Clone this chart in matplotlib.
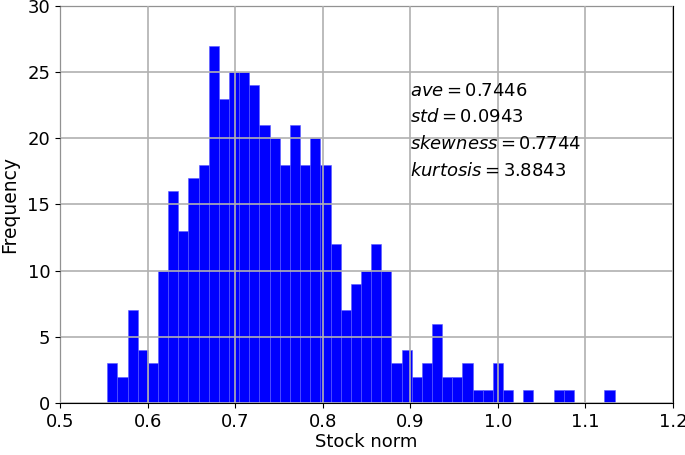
import numpy as np
import matplotlib
matplotlib.use("Agg")
import matplotlib.pyplot as plt

# Histogram counts (50 bins)
counts = [3, 2, 7, 4, 3, 10, 16, 13, 17, 18,
          27, 23, 25, 25, 24, 21, 20, 18, 21, 18,
          20, 18, 12, 7, 9, 10, 12, 10, 3, 4,
          2, 3, 6, 2, 2, 3, 1, 1, 3, 1,
          0, 1, 0, 0, 1, 1, 0, 0, 0, 1]
data_min = 0.554
data_max = 1.1333
stats_labels = ["ave", "std", "skewness", "kurtosis"]
stats_values = [0.7446, 0.0943, 0.7744, 3.8843]
x_ticks = [0.5, 0.6, 0.7, 0.8, 0.9, 1.0, 1.1, 1.2]
y_ticks = [0, 5, 10, 15, 20, 25, 30]

edges = np.linspace(data_min, data_max, len(counts) + 1)
centers = (edges[:-1] + edges[1:]) / 2

fig = plt.figure(figsize=(6.85, 4.55), dpi=100)
ax = fig.add_axes([0.0876, 0.1143, 0.8949, 0.8725])
ax.hist(centers, bins=edges, weights=counts, color="blue",
        edgecolor="#5a5aff", linewidth=0.4, zorder=2)
ax.set_xlim(0.5, 1.2)
ax.set_ylim(0, 30)
ax.set_xticks(x_ticks)
ax.set_xticklabels([f"{t:.1f}" for t in x_ticks])
ax.set_yticks(y_ticks)
ax.tick_params(labelsize=13)
ax.grid(True, color="#b0b0b0", linewidth=1.2, zorder=3)
ax.set_axisbelow(False)
ax.set_xlabel("Stock norm", fontsize=13, labelpad=2)
ax.set_ylabel("Frequency", fontsize=13.5, labelpad=6)

for i, (lab, val) in enumerate(zip(stats_labels, stats_values)):
    ax.text(0.9, 23.6 - 2.02 * i, rf"${lab} = {val:.4f}$", fontsize=13,
            va="center", ha="left", zorder=4)

fig.savefig("out.png", dpi=100)
